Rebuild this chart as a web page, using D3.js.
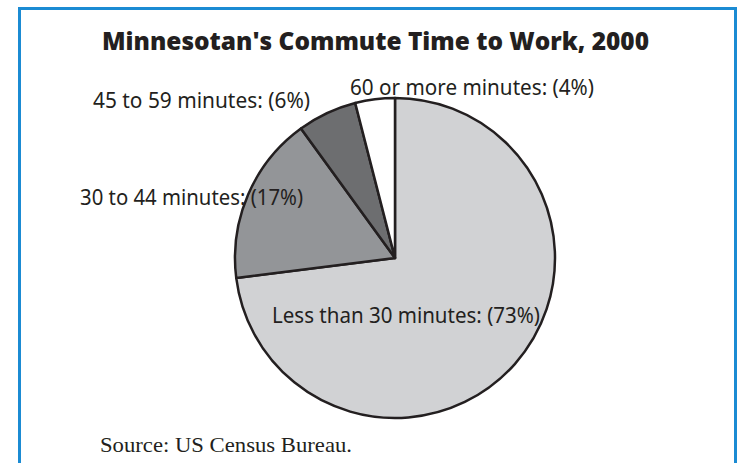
<!DOCTYPE html>
<html>
<head>
<meta charset="utf-8">
<script src="https://cdn.jsdelivr.net/npm/d3@7"></script>
<style>
  html, body { margin: 0; padding: 0; background: #fff; }
  svg { display: block; }
</style>
</head>
<body>
<svg id="chart" width="737" height="463"></svg>
<script>
const title = "Minnesotan's Commute Time to Work, 2000";
const source = "Source:  US Census Bureau.";
const categories = ["Less than 30 minutes", "30 to 44 minutes", "45 to 59 minutes", "60 or more minutes"];
const percents = [73, 17, 6, 4];
const colors = ["#d1d2d4", "#939598", "#6d6e70", "#ffffff"];

const svg = d3.select("#chart");
const W = 737, H = 463;

// frame
svg.append("rect").attr("x", 0).attr("y", 0).attr("width", W).attr("height", H).attr("fill", "#fff");
svg.append("path")
  .attr("d", "M19.5," + H + " L19.5,8.5 L735.5,8.5 L735.5," + H)
  .attr("fill", "none").attr("stroke", "#1b8bd3").attr("stroke-width", 3);

// title
svg.append("text")
  .attr("x", 102).attr("y", 50)
  .attr("textLength", 547).attr("lengthAdjust", "spacingAndGlyphs")
  .attr("font-family", "'Open Sans', sans-serif").attr("font-weight", 800)
  .attr("font-size", 25).attr("fill", "#231f20")
  .text(title);

// pie
const cx = 395, cy = 258, r = 160;
const pie = d3.pie().sort(null).value(d => d)(percents);
const arc = d3.arc().innerRadius(0).outerRadius(r);
const g = svg.append("g").attr("transform", `translate(${cx},${cy})`);
g.selectAll("path").data(pie).join("path")
  .attr("d", arc)
  .attr("fill", (d, i) => colors[i])
  .attr("stroke", "#231f20").attr("stroke-width", 2.5)
  .attr("stroke-linejoin", "round");

// labels
const labelPos = [
  { x: 272, y: 323, w: 268 },
  { x: 80, y: 205, w: 223 },
  { x: 93, y: 108, w: 217 },
  { x: 350, y: 95, w: 244 }
];
svg.selectAll("text.lbl").data(categories).join("text")
  .attr("class", "lbl")
  .attr("x", (d, i) => labelPos[i].x).attr("y", (d, i) => labelPos[i].y)
  .attr("textLength", (d, i) => labelPos[i].w).attr("lengthAdjust", "spacingAndGlyphs")
  .attr("font-family", "'Noto Sans', sans-serif").attr("font-size", 22)
  .attr("fill", "#231f20")
  .text((d, i) => `${d}: (${percents[i]}%)`);

// source
svg.append("text")
  .attr("x", 100).attr("y", 452)
  .attr("textLength", 252).attr("lengthAdjust", "spacingAndGlyphs")
  .attr("font-family", "'Liberation Serif', serif").attr("font-size", 21)
  .attr("fill", "#231f20")
  .text(source);
</script>
</body>
</html>
